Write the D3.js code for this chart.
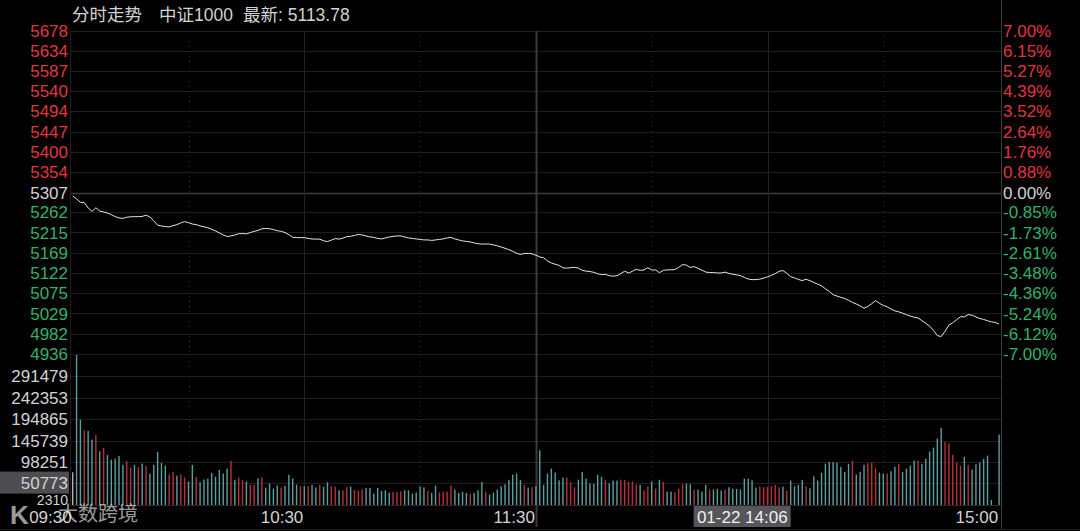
<!DOCTYPE html>
<html><head><meta charset="utf-8">
<script src="https://cdn.jsdelivr.net/npm/d3@7"></script>
<style>html,body{margin:0;padding:0;background:#000;}svg{display:block;}</style>
</head><body><svg id="c" width="1080" height="531"></svg>
<script>
// ---------- data ----------
const titleParts = ["分时走势", "中证1000", "最新: 5113.78"];
const prevClose = 5307.3;
const priceTicks = [5678,5634,5587,5540,5494,5447,5400,5354,5307,5262,5215,5169,5122,5075,5029,4982,4936];
const pctTicks = ["7.00%","6.15%","5.27%","4.39%","3.52%","2.64%","1.76%","0.88%","0.00%","-0.85%","-1.73%","-2.61%","-3.48%","-4.36%","-5.24%","-6.12%","-7.00%"];
const volTicks = [291479,242353,194865,145739,98251,50773,2310];
const volHighlight = 50773;
const timeTickLabels = ["09:30","10:30","11:30","15:00"];
const timeTickIdx = [0,60,120,240];
const cursorLabel = "01-22 14:06";
const cursorIdx = 186;
const solidLineIdx = [60,180];
const mainLineIdx = [120];
const dottedLineIdx = [30,90,150,210];

const prices = [
5299.3,5292.6,5284.8,5284.1,5271.7,5263.9,5272.2,5264.6,5262.5,5260.0,
5256.3,5251.7,5249.0,5247.8,5250.4,5251.5,5251.7,5251.7,5252.2,5255.2,
5251.1,5241.9,5232.2,5230.4,5228.8,5228.1,5231.1,5233.4,5237.3,5240.3,
5237.7,5234.7,5233.4,5230.4,5228.3,5226.3,5222.8,5218.7,5214.3,5210.0,
5206.1,5207.4,5209.3,5212.5,5212.9,5212.0,5215.2,5217.8,5220.1,5223.7,
5224.6,5224.0,5222.1,5219.4,5218.0,5215.2,5210.4,5204.4,5203.5,5203.5,
5203.5,5201.7,5200.3,5200.1,5199.9,5196.2,5194.3,5197.8,5201.2,5200.1,
5202.4,5205.8,5206.7,5208.3,5210.9,5209.7,5207.4,5205.1,5204.0,5201.7,
5200.5,5202.8,5205.1,5206.3,5207.4,5207.4,5205.1,5202.8,5201.7,5200.5,
5199.4,5198.2,5198.2,5197.1,5198.2,5199.4,5200.5,5202.8,5204.0,5200.5,
5198.2,5195.9,5194.8,5193.6,5191.3,5189.5,5188.6,5188.8,5188.6,5186.8,
5184.5,5181.9,5179.0,5175.7,5172.1,5167.5,5164.7,5167.0,5167.2,5166.3,
5162.9,5159.2,5157.1,5150.0,5145.2,5142.2,5139.7,5134.0,5133.3,5134.4,
5135.1,5133.3,5128.2,5126.4,5125.5,5123.6,5120.4,5118.3,5119.0,5116.0,
5114.9,5115.8,5120.6,5126.4,5122.0,5126.1,5130.5,5128.2,5129.1,5134.4,
5129.1,5129.1,5122.9,5128.0,5129.4,5129.4,5130.0,5134.9,5141.5,5140.2,
5134.9,5136.7,5133.0,5128.7,5124.3,5123.2,5123.2,5122.2,5122.2,5124.1,
5121.1,5119.3,5117.9,5116.0,5111.9,5108.2,5106.9,5106.9,5108.0,5110.5,
5113.3,5116.5,5120.9,5125.9,5127.8,5121.3,5113.8,5110.8,5107.3,5104.6,
5107.8,5104.3,5100.4,5096.3,5092.9,5085.7,5080.0,5072.2,5069.0,5066.0,
5063.5,5059.3,5054.5,5050.8,5046.5,5041.2,5045.1,5051.5,5058.6,5052.2,
5047.6,5044.4,5039.1,5035.0,5032.9,5029.7,5026.3,5023.1,5020.3,5018.5,
5012.7,5006.5,4999.9,4990.2,4978.1,4976.0,4987.9,5002.4,5007.7,5014.6,
5021.5,5021.2,5026.5,5025.1,5021.0,5017.5,5015.3,5012.3,5009.7,5008.6,
5004.7];

const volumes = [
74000,340000,193400,169200,167800,148100,158800,121600,129300,113500,
102800,105100,111200,90800,99000,84000,90800,85400,93800,88600,
71100,90800,120300,95400,89200,69500,75000,66600,69500,62100,
53000,90800,63600,51400,57500,59800,72700,64300,79500,71100,
82400,99900,56900,62100,56900,53000,46200,46200,60500,62700,
39400,48500,37100,43900,39400,43300,68200,59800,46200,42400,
42400,42400,45500,39400,45500,41000,51400,42400,41700,33300,
33300,40100,41700,34200,32600,35600,38700,38700,25800,38700,
31900,33300,28100,29700,28800,31000,33300,33300,25800,28100,
41700,40100,31900,27400,43900,28800,30400,30400,43900,34900,
27400,29700,27400,25800,27400,33300,52300,30400,23600,28100,
34900,42400,46900,56900,68900,71100,56900,45500,39400,40100,
42400,123900,45500,71100,82400,73400,55900,62100,62100,51400,
40100,57500,75000,59800,48500,47800,68200,63600,56900,49200,
55300,55300,57500,56900,52300,53000,46200,45500,32600,41700,
53000,37100,56900,52300,30400,30400,28800,37100,46900,48500,
46900,34200,34900,30400,46200,34900,34900,36500,32600,34900,
40100,36500,36500,34900,59800,59800,55900,39400,41700,40100,
41000,42400,45500,40100,41700,32600,55300,42400,45500,56900,
42400,37800,65000,55300,72700,93800,97600,97600,96000,86300,
75000,93100,99900,68900,75000,90800,94500,96000,83100,73400,
71100,71100,76300,86300,93100,75000,82400,89200,100600,100600,
93100,104400,121000,130000,150400,174600,142900,139800,113500,96000,
89200,108900,90800,80200,92200,96000,104400,111900,11600,0,
159500];

const volDir = (
"wggrggrgrg"+"ggggrrgrgr"+"gggggrrgrr"+"ggrggggggg"+"grgrrgrrgr"+
"ggggrggggr"+"grggrggrrg"+"rrgrrrgggg"+"gggrrrgggg"+"ggrggrrrrg"+
"gggrgggrgg"+"gggggggrgr"+"ggggggggrr"+"rgggggggrg"+"ggrrrrrgrr"+
"grgrggrrrg"+"grgggrgggr"+"ggggggggrr"+"rrrrgrgggg"+"rggggggggg"+
"ggrgggrrrg"+"grggrggggr"+"ggggggrrrr"+"rgrggggggg"+"g").split("");

// ---------- drawing ----------
const W = 1080, H = 531;
const left = 71, right = 1001;
const priceTop = 31, priceBot = 354;
const volTop = 354, volBot = 505;
const FONT = "'Liberation Sans', Arial, 'Noto Sans CJK SC', sans-serif";
const RED = "#e0373f", GREEN = "#2fb36a", TXT = "#d2d2d2";
const BAR_RED = "#b8323b", BAR_TEAL = "#5b9ea0";

const svg = d3.select("#c");
svg.append("rect").attr("width", W).attr("height", H).attr("fill", "#000");

const idx = d3.range(prices.length);
const x = d3.scalePoint().domain(idx).range([72.7, 999.1]);
const y = d3.scaleLinear().domain([prevClose * 0.93, prevClose * 1.07]).range([priceBot, priceTop]);
const yPct = d3.scaleLinear().domain([-7, 7]).range([priceBot, priceTop]);
const yv = d3.scaleLinear().domain([0, 341900]).range([volBot, volTop]);

const g = svg.append("g");

// horizontal grid (price)
priceTicks.forEach((p, i) => {
  const yy = Math.round(yPct(parseFloat(pctTicks[i]))) + 0.5;
  g.append("line").attr("x1", left).attr("x2", right).attr("y1", yy).attr("y2", yy)
    .attr("stroke", i === 8 ? "#3d3d40" : "#1d1d22").attr("stroke-width", i === 8 ? 1.5 : 1);
});
// volume grid
volTicks.slice(0, 6).forEach(v => {
  const yy = Math.round(yv(v)) + 0.5;
  g.append("line").attr("x1", left).attr("x2", right).attr("y1", yy).attr("y2", yy)
    .attr("stroke", "#1d1d22");
});
g.append("line").attr("x1", left).attr("x2", right).attr("y1", volBot + 0.5).attr("y2", volBot + 0.5).attr("stroke", "#26262b");
g.append("line").attr("x1", 0).attr("x2", W).attr("y1", 529.5).attr("y2", 529.5).attr("stroke", "#1d1d22");

// vertical grid
dottedLineIdx.forEach(i => {
  const xx = Math.round(x(i)) + 0.5;
  g.append("line").attr("x1", xx).attr("x2", xx).attr("y1", priceTop).attr("y2", volBot)
    .attr("stroke", "#2a2a30").attr("stroke-dasharray", "1,4");
});
solidLineIdx.forEach(i => {
  const xx = Math.round(x(i)) + 0.5;
  g.append("line").attr("x1", xx).attr("x2", xx).attr("y1", priceTop).attr("y2", volBot)
    .attr("stroke", "#222227");
});
mainLineIdx.forEach(i => {
  const xx = Math.round(x(i)) + 0.5;
  g.append("line").attr("x1", xx).attr("x2", xx).attr("y1", priceTop).attr("y2", volBot + 22)
    .attr("stroke", "#3a3a3f").attr("stroke-width", 2);
});
g.append("line").attr("x1", 70.5).attr("x2", 70.5).attr("y1", priceTop).attr("y2", volBot).attr("stroke", "#1d1d22");
g.append("line").attr("x1", right + 0.5).attr("x2", right + 0.5).attr("y1", 0).attr("y2", 529).attr("stroke", "#3a3a3e");

// volume bars
g.selectAll("rect.v").data(volumes).enter().append("rect").attr("class", "v")
  .attr("x", (d, i) => x(i) - 0.7).attr("width", 1.4)
  .attr("y", d => yv(d)).attr("height", d => volBot - yv(d))
  .attr("fill", (d, i) => volDir[i] === "r" ? BAR_RED : volDir[i] === "w" ? "#b0b0b0" : BAR_TEAL);

// price line
g.append("path").datum(prices)
  .attr("d", d3.line().x((d, i) => x(i)).y(d => y(d)))
  .attr("fill", "none").attr("stroke", "#e6e6e6").attr("stroke-width", 1);

// left price labels
priceTicks.forEach((p, i) => {
  svg.append("text").attr("x", 68).attr("y", yPct(parseFloat(pctTicks[i])))
    .attr("dy", "0.36em").attr("text-anchor", "end")
    .attr("font-family", FONT).attr("font-size", 17)
    .attr("fill", i < 8 ? RED : i === 8 ? TXT : GREEN).text(p);
});
// right pct labels
pctTicks.forEach((t, i) => {
  svg.append("text").attr("x", 1003).attr("y", yPct(parseFloat(t)))
    .attr("dy", "0.36em").attr("text-anchor", "start")
    .attr("font-family", FONT).attr("font-size", 17)
    .attr("fill", i < 8 ? RED : i === 8 ? TXT : GREEN).text(t);
});
// volume labels (bottom one first, so the highlighted box partly covers it as in the reference)
volTicks.slice().reverse().forEach(v => {
  const yy = Math.min(yv(v), 500);
  if (v === volHighlight) {
    svg.append("rect").attr("x", 0).attr("y", yy - 11).attr("width", 69).attr("height", 22).attr("fill", "#4e4e52");
  }
  svg.append("text").attr("x", 68).attr("y", yy).attr("dy", "0.36em").attr("text-anchor", "end")
    .attr("font-family", FONT).attr("font-size", v === volTicks[volTicks.length - 1] ? 14 : 17)
    .attr("fill", TXT).text(v);
});

// time labels
timeTickIdx.forEach((ti, k) => {
  svg.append("text").attr("x", x(ti) - 1).attr("y", 523).attr("text-anchor", "end")
    .attr("font-family", FONT).attr("font-size", 17).attr("fill", TXT).text(timeTickLabels[k]);
});
// cursor label
{
  const cx = x(cursorIdx);
  svg.append("rect").attr("x", cx - 97).attr("y", 506).attr("width", 97).attr("height", 21).attr("fill", "#55555a");
  svg.append("text").attr("x", cx - 3).attr("y", 523).attr("text-anchor", "end")
    .attr("font-family", FONT).attr("font-size", 17).attr("fill", "#f0f0f0").text(cursorLabel);
}

// title
const titleX = [72, 159, 243];
titleParts.forEach((t, i) => {
  svg.append("text").attr("x", titleX[i]).attr("y", 21)
    .attr("font-family", FONT).attr("font-size", 17.5).attr("fill", TXT).text(t);
});

// watermark
const wm = svg.append("g").attr("opacity", 0.6);
wm.append("text").attr("x", 10).attr("y", 524).attr("font-family", FONT).attr("font-size", 26)
  .attr("font-weight", "bold").attr("fill", "#ffffff").text("K");
wm.append("text").attr("x", 58).attr("y", 521).attr("font-family", "'Noto Sans CJK SC', sans-serif")
  .attr("font-size", 20).attr("fill", "#ffffff").text("大数跨境");
</script>
</body></html>
